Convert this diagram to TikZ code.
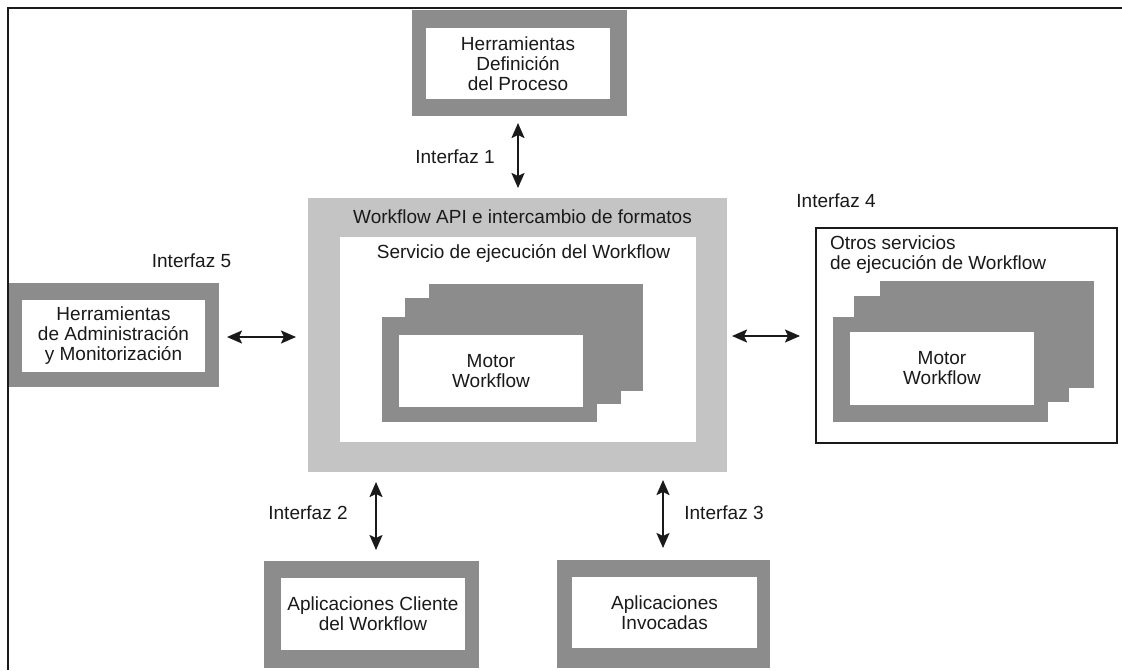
\documentclass[tikz,border=0pt]{standalone}
\usepackage{fontspec}
\setmainfont{Liberation Sans}
\usetikzlibrary{arrows.meta}
\definecolor{frameshade}{RGB}{140,140,140}
\definecolor{apishade}{RGB}{196,196,196}
\definecolor{ink}{RGB}{26,26,26}
\begin{document}
\begin{tikzpicture}[x=1pt,y=-1pt,
  every node/.style={inner sep=0pt,outer sep=0pt,text=ink,font=\fontsize{19}{20}\selectfont},
  darkbox/.style={fill=frameshade,draw=none},
  lightbox/.style={fill=apishade,draw=none},
  whitebox/.style={fill=white,draw=none,align=center},
  iface/.style={{Stealth[length=15pt,width=13pt,inset=3pt]}-{Stealth[length=15pt,width=13pt,inset=3pt]},line width=2pt,draw=ink},
  lbl/.style={align=center}]
% page and frame
\fill[white] (0,0) rectangle (1122,670);
\useasboundingbox (0,0) rectangle (1122,670);
\draw[line width=2pt,ink] (8,670) -- (8,8) -- (1122,8);

% process definition tools (top)
\node[darkbox,minimum width=215pt,minimum height=106pt] (defout) at (519.5,63) {};
\node[whitebox,minimum width=184pt,minimum height=71pt] (defin) at (518,63.5)
  {Herramientas\\Definición\\del Proceso};

% workflow API block (centre)
\node[lightbox,minimum width=419pt,minimum height=274pt] (api) at (517.5,335) {};
\node[lbl] (apitxt) at (522.5,217) {Workflow API e intercambio de formatos};
\node[whitebox,minimum width=356pt,minimum height=205pt] (svc) at (518,339.5) {};
\node[lbl] (svctxt) at (523.5,253) {Servicio de ejecución del Workflow};
\node[darkbox,minimum width=214pt,minimum height=107pt] (eng3) at (536,337.5) {};
\node[darkbox,minimum width=216pt,minimum height=106pt] (eng2) at (513,351) {};
\node[darkbox,minimum width=215pt,minimum height=105pt] (eng1) at (489.5,369.5) {};
\node[whitebox,minimum width=184pt,minimum height=72pt] (eng) at (491,371) {Motor\\Workflow};

% other workflow enactment services (right)
\node[fill=white,draw=ink,line width=1.2pt,minimum width=301pt,minimum height=215pt] (other) at (966.5,335.5) {};
\node[align=left,anchor=north west] (othertxt) at (830,236)
  {Otros servicios\\de ejecución de Workflow};
\node[darkbox,minimum width=214pt,minimum height=107pt] (oeng3) at (987,334.5) {};
\node[darkbox,minimum width=215pt,minimum height=106pt] (oeng2) at (961.5,349) {};
\node[darkbox,minimum width=215pt,minimum height=105pt] (oeng1) at (940.5,369.5) {};
\node[whitebox,minimum width=184pt,minimum height=73pt] (oeng) at (942,368.5) {Motor\\Workflow};

% administration and monitoring tools (left)
\node[darkbox,minimum width=210pt,minimum height=104pt] (admout) at (114,335) {};
\node[whitebox,minimum width=183pt,minimum height=72pt] (adm) at (113.5,336)
  {Herramientas\\de Administración\\y Monitorización};

% client applications (bottom left)
\node[darkbox,minimum width=215pt,minimum height=107pt] (cliout) at (371.5,614.5) {};
\node[whitebox,minimum width=184pt,minimum height=72pt] (cli) at (373,614)
  {Aplicaciones Cliente\\del Workflow};

% invoked applications (bottom right)
\node[darkbox,minimum width=213pt,minimum height=108pt] (invout) at (663.5,614) {};
\node[whitebox,minimum width=185pt,minimum height=71pt] (inv) at (664.5,612.5)
  {Aplicaciones\\Invocadas};

% interface connectors
\coordinate (i1a) at (518,123);  \coordinate (i1b) at (518,188);
\coordinate (i2a) at (376,482);  \coordinate (i2b) at (376,550);
\coordinate (i3a) at (663,480);  \coordinate (i3b) at (663,548);
\coordinate (i4a) at (732,336);  \coordinate (i4b) at (800,336);
\coordinate (i5a) at (227,337);  \coordinate (i5b) at (296,337);
\draw[iface] (i1a) -- (i1b);
\draw[iface] (i2a) -- (i2b);
\draw[iface] (i3a) -- (i3b);
\draw[iface] (i4a) -- (i4b);
\draw[iface] (i5a) -- (i5b);

% interface labels
\node[lbl] (l1) at (455,157) {Interfaz 1};
\node[lbl] (l2) at (308,513) {Interfaz 2};
\node[lbl] (l3) at (724,513) {Interfaz 3};
\node[lbl] (l4) at (836,201) {Interfaz 4};
\node[lbl] (l5) at (191.5,261) {Interfaz 5};
\end{tikzpicture}
\end{document}
